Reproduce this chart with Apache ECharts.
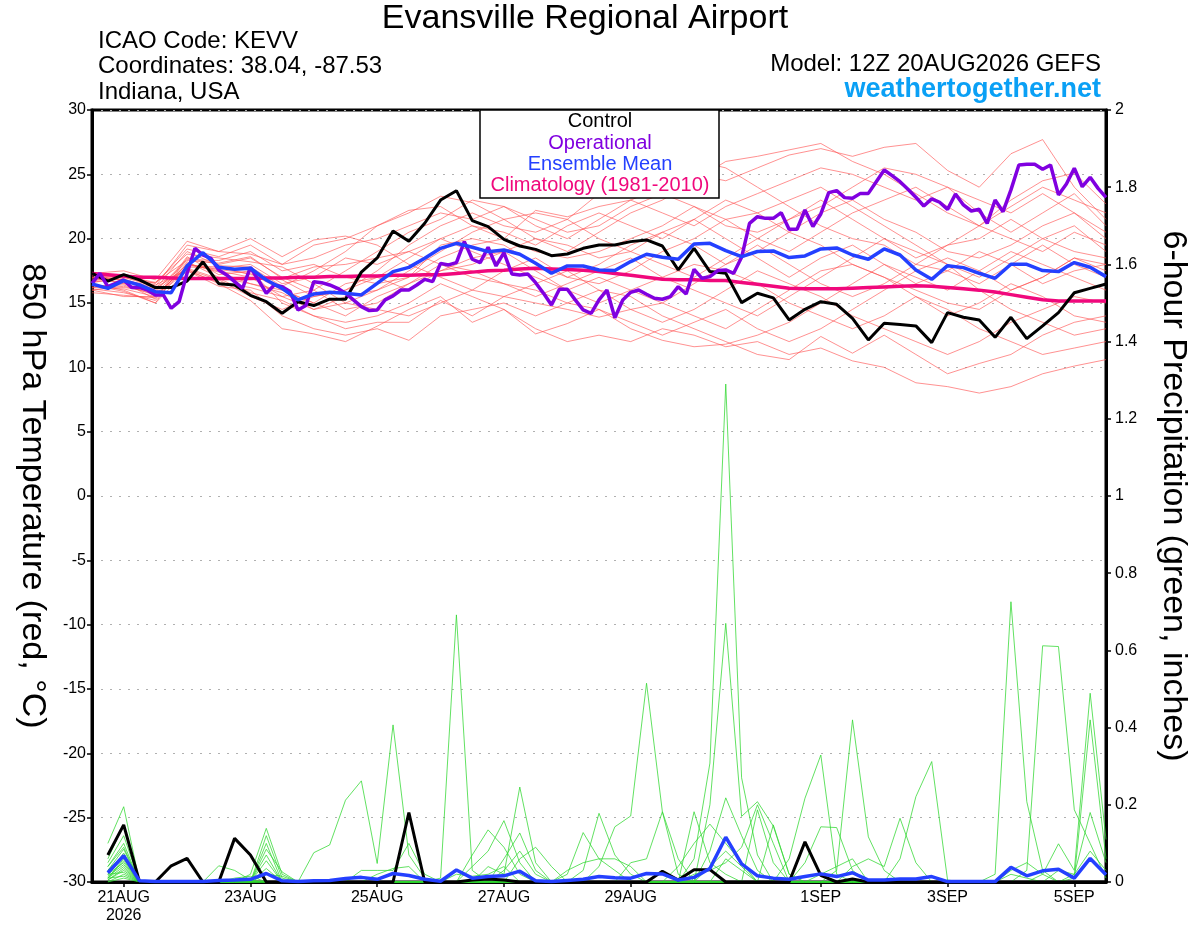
<!DOCTYPE html>
<html>
<head>
<meta charset="utf-8">
<title>Evansville Regional Airport</title>
<script src="https://cdn.jsdelivr.net/npm/echarts@6/dist/echarts.min.js"></script>
<style>
html, body { margin: 0; padding: 0; background: #fff; }
#chart { width: 1200px; height: 927px; }
</style>
</head>
<body>
<div id="chart"></div>
<script>
// hours counted from 12Z 20AUG2026
const tickHours = [12, 60, 108, 156, 204, 276, 324, 372];
const tickLabels = ["21AUG\n2026", "23AUG", "25AUG", "27AUG", "29AUG", "1SEP", "3SEP", "5SEP"];

// 850 hPa temperature, 6-hourly
const controlTemp = [
  17.3, 16.7, 17.2, 16.8, 16.2, 16.2, 16.7, 18.2, 16.5, 16.4,
  15.6, 15.1, 14.2, 15.1, 14.8, 15.3, 15.3, 17.4, 18.5, 20.6,
  19.8, 21.2, 23.0, 23.73, 21.4, 20.93, 19.95, 19.43, 19.17, 18.68,
  18.81, 19.25, 19.51, 19.51, 19.77, 19.9, 19.43, 17.57, 19.25, 17.44,
  17.31, 15.03, 15.76, 15.4, 13.68, 14.51, 15.1, 14.9, 13.81, 12.13,
  13.42, 13.32, 13.22, 11.92, 14.25, 13.89, 13.68, 12.33, 13.89, 12.23,
  13.22, 14.25, 15.8, 16.14, 16.48
];
const meanTemp = [
  16.48, 16.14, 16.74, 16.4, 15.88, 15.8, 17.88, 18.91, 17.77, 17.62,
  17.7, 16.79, 16.14, 15.24, 15.7, 15.83, 15.76, 15.63, 16.53, 17.44,
  17.77, 18.47, 19.25, 19.64, 19.33, 18.99, 19.12, 18.79, 18.09, 17.31,
  17.88, 17.88, 17.57, 17.52, 18.22, 18.79, 18.55, 18.4, 19.59, 19.64,
  19.07, 18.6, 19.0, 19.05, 18.53, 18.66, 19.2, 19.28, 18.73, 18.4,
  19.2, 18.73, 17.57, 16.84, 17.9, 17.75, 17.31, 16.92, 18.01, 18.01,
  17.52, 17.44, 18.14, 17.78, 17.05
];
const climTemp = [
  17.3, 17.2, 17.1, 17.0, 17.0, 16.95,
  16.9, 16.9, 16.9, 16.9, 16.9, 16.95,
  16.95, 17.0, 17.0, 17.05, 17.05, 17.1,
  17.1, 17.15, 17.15, 17.2, 17.2, 17.3,
  17.4, 17.5, 17.55, 17.65, 17.7, 17.65,
  17.6, 17.55, 17.45, 17.3, 17.15, 17.0,
  16.85, 16.8, 16.8, 16.75, 16.75, 16.6,
  16.45, 16.3, 16.15, 16.1, 16.1, 16.1,
  16.15, 16.2, 16.25, 16.3, 16.35, 16.3,
  16.2, 16.1, 16.0, 15.85, 15.65, 15.45,
  15.25, 15.15, 15.15, 15.15, 15.15
];
// operational run, 3-hourly
const operationalTemp = [
  16.53, 17.31, 16.27, 16.53, 16.79, 16.2, 16.22, 16.0, 15.63, 15.63,
  14.59, 15.11, 17.31, 19.25, 18.73, 18.47, 17.57, 17.18, 16.66, 16.14,
  17.77, 16.79, 15.75, 16.4, 16.27, 15.89, 14.46, 14.8, 16.66, 16.58,
  16.4, 16.14, 15.75, 15.24, 14.72, 14.41, 14.46, 15.24, 15.55, 16.01,
  16.01, 16.4, 16.84, 16.66, 18.08, 17.96, 18.14, 19.77, 18.4, 18.14,
  19.33, 17.88, 18.91, 17.26, 17.18, 17.26, 16.58, 15.75, 14.85, 16.07,
  16.07, 15.24, 14.46, 14.2, 15.24, 16.01, 13.86, 15.24, 15.83, 16.01,
  15.68, 15.37, 15.29, 15.5, 16.27, 15.7, 17.62, 16.92, 17.05, 17.52,
  17.57, 17.31, 18.55, 21.19, 21.71, 21.58, 21.58, 22.02, 20.73, 20.73,
  22.23, 20.94, 21.92, 23.58, 23.73, 23.19, 23.14, 23.52, 23.52, 24.43,
  25.34, 24.9, 24.43, 23.84, 23.22, 22.54, 23.09, 22.83, 22.28, 23.47,
  22.62, 22.15, 22.28, 21.19, 23.01, 22.1, 23.79, 25.73, 25.78, 25.78,
  25.39, 25.73, 23.4, 24.25, 25.47, 24.04, 24.77, 23.91, 23.21
];
// ensemble members, 12-hourly
const tempMembers = [
  [16.8, 17.2, 16.5, 19.2, 18.6, 19.5, 18.0, 19.5, 20.0, 21.0, 22.0, 23.3, 22.8, 21.5, 22.0, 21.5, 23.5, 24.5, 25.6, 26.1, 25.5, 24.0, 22.5, 21.0, 20.0, 19.5, 18.0, 17.5, 16.5, 18.0, 19.5, 18.0, 17.0],
  [16.2, 16.5, 15.8, 18.0, 17.5, 17.0, 15.5, 14.5, 15.0, 16.0, 17.5, 19.0, 20.5, 21.5, 20.0, 19.0, 20.5, 22.0, 23.0, 24.5, 26.0, 26.4, 26.9, 27.4, 26.0, 25.0, 23.5, 22.0, 21.0, 23.0, 24.5, 25.1, 22.7],
  [17.0, 16.8, 16.2, 17.6, 16.5, 15.2, 13.0, 12.6, 12.0, 13.2, 14.5, 15.5, 13.5, 14.5, 12.6, 13.4, 14.5, 13.0, 12.1, 11.6, 11.8, 12.5, 13.5, 15.0, 16.5, 18.0, 17.0, 16.0, 17.5, 19.0, 18.0, 17.0, 16.0],
  [16.5, 16.0, 15.0, 18.5, 18.0, 18.5, 17.0, 16.0, 17.5, 19.0, 20.5, 21.5, 23.0, 22.5, 21.0, 20.0, 21.5, 23.0, 24.0, 25.0, 24.5, 25.5, 26.5, 27.0, 26.4, 27.1, 27.4, 25.3, 24.0, 26.6, 27.7, 24.0, 21.5],
  [16.0, 15.5, 15.5, 17.5, 16.3, 16.0, 14.0, 13.0, 12.5, 13.0, 12.1, 14.0, 14.5, 15.0, 14.0, 15.0, 16.0, 15.5, 14.0, 13.0, 12.0, 11.0, 10.6, 12.4, 11.1, 12.5, 11.0, 9.5, 10.3, 11.0, 12.5, 13.5, 14.0],
  [17.3, 17.5, 16.8, 19.8, 19.0, 20.0, 18.6, 19.9, 20.2, 19.5, 18.0, 17.0, 16.0, 17.5, 18.5, 17.0, 16.5, 17.5, 19.0, 20.0, 21.5, 20.0, 19.0, 20.5, 22.0, 23.0, 24.0, 22.5, 21.0, 20.0, 19.0, 20.5, 19.5],
  [16.6, 16.9, 16.0, 18.2, 17.0, 16.5, 16.0, 15.0, 14.0, 15.5, 16.5, 18.0, 17.5, 16.5, 15.5, 16.5, 17.5, 18.5, 17.0, 16.0, 15.0, 14.0, 15.5, 17.0, 18.5, 20.0, 19.0, 18.0, 16.0, 14.5, 13.5, 12.5, 13.0],
  [16.3, 16.4, 15.6, 17.8, 17.7, 18.0, 16.5, 17.0, 18.5, 18.0, 19.0, 20.0, 21.0, 20.5, 19.5, 21.0, 22.0, 21.0, 20.0, 21.5, 23.0, 22.0, 20.5, 19.5, 18.0, 17.0, 16.0, 15.0, 14.5, 16.0, 17.0, 18.5, 18.0],
  [16.9, 16.6, 15.3, 18.6, 17.2, 17.5, 15.0, 14.0, 13.5, 14.0, 15.0, 16.5, 15.5, 14.5, 13.0, 12.0, 12.5, 12.0, 13.0, 12.5, 11.6, 12.0, 11.0, 11.5, 10.5, 10.0, 8.8, 8.5, 8.0, 8.5, 9.5, 10.1, 10.6],
  [16.4, 16.2, 15.9, 18.4, 18.3, 19.0, 17.5, 18.0, 17.0, 16.5, 17.0, 18.5, 19.5, 20.0, 19.0, 18.5, 19.0, 20.0, 21.0, 22.5, 21.0, 20.5, 21.5, 23.0, 21.5, 20.0, 18.5, 19.5, 20.0, 21.5, 20.0, 19.0, 18.5],
  [17.1, 17.0, 16.4, 17.6, 16.8, 15.5, 14.5, 15.5, 16.0, 17.0, 18.5, 20.0, 19.0, 18.0, 17.0, 16.0, 15.0, 16.0, 17.0, 18.0, 17.5, 16.5, 15.0, 14.0, 13.0, 14.0, 15.5, 14.5, 13.0, 12.0, 11.0, 11.5, 12.0],
  [16.1, 15.8, 15.2, 17.9, 17.8, 17.2, 16.8, 15.5, 16.0, 17.5, 19.5, 21.0, 22.0, 21.0, 20.5, 21.5, 20.0, 19.0, 18.0, 17.0, 18.5, 20.0, 21.5, 22.5, 24.0, 25.5, 25.0, 24.0, 22.0, 20.5, 22.0, 23.5, 21.0],
  [16.7, 17.1, 16.6, 18.8, 18.5, 18.2, 17.8, 16.5, 15.0, 14.5, 14.0, 15.0, 16.0, 15.5, 16.5, 17.5, 16.0, 14.5, 13.5, 14.5, 16.0, 17.5, 16.5, 15.5, 14.0, 13.0, 12.0, 11.0, 12.0, 13.5, 14.5, 15.5, 15.0],
  [15.8, 15.6, 15.4, 18.1, 17.4, 16.5, 15.8, 14.5, 15.5, 16.0, 17.0, 19.5, 20.0, 19.5, 18.0, 17.0, 18.0, 19.5, 20.5, 19.5, 18.0, 19.0, 20.5, 22.0, 23.0, 21.5, 20.5, 19.0, 18.5, 19.5, 21.0, 22.0, 20.0],
  [17.2, 16.7, 16.1, 19.0, 17.9, 17.8, 16.3, 17.5, 19.0, 21.0, 22.2, 22.5, 21.0, 20.0, 22.2, 21.7, 22.5, 23.0, 22.0, 21.0, 22.5, 23.5, 24.5, 25.5, 25.0, 24.0, 23.0, 24.0, 23.0, 22.0, 23.5, 22.0, 20.5],
  [16.0, 16.3, 15.7, 17.7, 16.9, 15.8, 15.2, 14.0, 13.0, 13.5, 13.5, 15.2, 14.0, 15.5, 15.0, 14.5, 13.9, 14.5, 15.0, 14.0, 13.0, 14.5, 16.0, 17.5, 18.0, 17.0, 15.5, 14.0, 15.0, 16.5, 15.5, 14.0, 13.5],
  [16.6, 17.0, 16.3, 19.5, 19.0, 18.8, 18.0, 18.5, 19.5, 20.0, 21.0, 22.0, 21.5, 22.5, 21.5, 20.5, 21.0, 22.5, 23.5, 22.5, 21.5, 22.0, 23.0, 24.0, 22.5, 21.0, 19.5, 18.0, 17.0, 18.5, 20.0, 21.0, 19.0],
  [16.4, 15.9, 15.0, 17.5, 16.6, 16.2, 15.5, 16.0, 14.5, 15.0, 16.5, 17.5, 18.5, 19.0, 17.5, 16.0, 17.0, 16.0, 15.0, 16.5, 18.0, 19.5, 18.0, 16.5, 15.5, 16.5, 18.0, 19.5, 21.0, 22.5, 24.0, 23.0, 22.0],
  [17.0, 16.5, 16.6, 18.3, 18.1, 18.6, 16.9, 17.8, 18.0, 18.5, 19.0, 18.0, 17.0, 16.5, 16.0, 15.0, 14.5, 13.5, 12.5, 13.5, 14.5, 13.0, 12.0, 13.0, 14.5, 16.0, 17.5, 18.5, 17.5, 16.0, 17.0, 18.5, 17.5],
  [16.2, 16.1, 15.5, 18.0, 17.6, 17.3, 16.0, 15.0, 16.5, 17.0, 16.0, 17.5, 18.0, 19.0, 20.0, 19.5, 18.5, 19.0, 20.5, 21.5, 20.0, 18.5, 17.0, 18.5, 19.5, 18.0, 16.5, 17.5, 19.0, 18.0, 16.5, 17.5, 18.0]
];

// 6-hour precipitation (inches), first value at hour 6
const controlPrecip = [
  .07, .148, 0, 0, .042, .061, 0, 0,
  .113, .07, 0, 0, 0, 0, 0, 0,
  0, 0, 0, .18, 0, 0, 0, .005,
  .008, .005, 0, 0, 0, 0, 0, 0,
  0, 0, 0, .028, .005, .032, .032, 0,
  0, 0, 0, 0, .104, .017, 0, .008,
  0, 0, 0, 0, 0, 0, 0, 0,
  0, 0, 0, 0, 0, 0, 0, 0
];
const meanPrecip = [
  .024, .068, .003, .001, .001, .001, .001, .004,
  .005, .007, .022, .003, .001, .003, .004, .009,
  .012, .007, .022, .017, .007, .002, .031, .01,
  .014, .016, .028, .003, .001, .004, .007, .014,
  .011, .01, .022, .021, .005, .012, .035, .116,
  .047, .016, .01, .007, .014, .021, .014, .024,
  .005, .005, .008, .008, .014, .001, .001, .001,
  .001, .038, .016, .029, .033, .01, .061, .019
];
const precipMembers = [
  [.10, .195, 0, 0, 0, 0, 0, 0, 0, 0, 0, 0, 0, 0, 0, 0, 0, 0, 0, 0, 0, .01, .692, .03, 0, 0, 0, 0, 0, 0, 0, 0, 0, 0, 0, 0, 0, 0, 0, 0, 0, .187, .05, 0, 0, 0, 0, 0, 0, 0, 0, 0, 0, 0, 0, 0, 0, 0, 0, 0, 0, 0, 0, 0],
  [.06, .148, 0, 0, 0, 0, 0, 0, 0, 0, .02, .015, 0, 0, 0, 0, 0, 0, 0, 0, 0, 0, 0, 0, 0, 0, 0, 0, 0, .02, .128, .06, .03, 0, 0, 0, 0, 0, .04, .08, .04, 0, 0, 0, 0, 0, 0, 0, 0, 0, 0, 0, 0, 0, 0, 0, 0, 0, 0, 0, 0, 0, 0, 0],
  [.05, .12, 0, 0, 0, 0, 0, .042, .03, .005, 0, 0, 0, 0, 0, 0, 0, 0, 0, 0, 0, 0, 0, 0, 0, 0, 0, 0, 0, 0, 0, 0, 0, .05, .06, .182, .06, 0, 0, 0, 0, 0, 0, 0, 0, 0, 0, 0, 0, 0, 0, 0, 0, 0, 0, 0, .02, .726, .208, .03, 0, 0, 0, 0],
  [.04, .10, 0, 0, 0, 0, 0, 0, 0, 0, 0, 0, 0, .076, .096, .212, .262, .048, .407, .07, .01, 0, 0, 0, 0, 0, 0, 0, 0, 0, 0, 0, 0, 0, 0, 0, 0, 0, 0, 0, 0, 0, .148, .02, 0, 0, 0, 0, 0, 0, 0, 0, 0, 0, 0, 0, 0, 0, 0, 0, 0, 0, 0, 0],
  [.03, .085, 0, 0, 0, 0, 0, 0, 0, .02, .139, .02, 0, 0, 0, 0, 0, 0, 0, 0, 0, 0, 0, 0, 0, 0, 0, 0, 0, 0, 0, 0, 0, 0, 0, 0, 0, .182, .05, .02, 0, 0, 0, 0, 0, 0, 0, 0, 0, 0, 0, 0, 0, 0, 0, 0, 0, .03, .05, .02, 0, 0, 0, 0],
  [.02, .075, 0, 0, 0, 0, 0, 0, 0, 0, .12, .01, 0, 0, 0, 0, 0, 0, 0, 0, 0, 0, 0, .07, .135, .09, .02, 0, 0, 0, 0, 0, 0, 0, 0, 0, 0, 0, 0, 0, 0, 0, 0, .06, .217, .329, .02, 0, 0, 0, 0, 0, 0, 0, 0, 0, 0, 0, 0, 0, 0, 0, 0, 0],
  [.03, .07, 0, 0, 0, 0, 0, 0, 0, 0, 0, 0, 0, 0, 0, 0, .03, .03, .03, .1, .02, 0, 0, 0, 0, 0, 0, 0, 0, 0, 0, 0, 0, 0, 0, 0, 0, 0, 0, 0, 0, 0, 0, 0, .05, .143, .141, .03, 0, 0, 0, 0, 0, 0, 0, 0, 0, 0, 0, 0, 0, 0, 0, 0],
  [.01, .06, 0, 0, 0, 0, 0, 0, 0, 0, .10, 0, 0, 0, 0, 0, 0, 0, 0, 0, 0, 0, 0, 0, 0, 0, 0, 0, 0, 0, 0, 0, 0, 0, 0, 0, 0, .06, .308, 1.29, .27, .07, 0, 0, 0, 0, 0, 0, 0, 0, 0, 0, 0, 0, 0, 0, 0, 0, 0, 0, 0, 0, 0, 0],
  [.02, .05, 0, 0, 0, 0, 0, 0, 0, 0, .085, .026, 0, 0, 0, 0, 0, 0, 0, 0, 0, 0, 0, 0, 0, 0, 0, 0, 0, 0, .03, .178, .07, .02, 0, 0, 0, 0, 0, 0, 0, 0, 0, 0, 0, 0, 0, 0, 0, 0, 0, 0, 0, 0, 0, 0, 0, 0, .03, .612, .61, .187, .1, .01],
  [.015, .045, 0, 0, 0, 0, 0, 0, .01, .015, 0, 0, 0, 0, 0, 0, 0, 0, 0, 0, 0, 0, 0, .04, .08, .159, .05, 0, 0, 0, 0, 0, 0, 0, 0, 0, 0, 0, 0, 0, 0, 0, 0, 0, 0, 0, .03, .42, .117, .03, 0, 0, 0, 0, 0, 0, 0, 0, 0, 0, 0, 0, 0, 0],
  [.01, .04, 0, 0, 0, 0, 0, 0, 0, 0, .07, 0, 0, 0, 0, 0, 0, 0, 0, 0, 0, 0, 0, 0, 0, 0, 0, 0, 0, 0, 0, 0, 0, 0, 0, 0, 0, 0, .2, .67, .17, .208, .145, .02, 0, 0, 0, 0, 0, 0, 0, 0, 0, 0, 0, 0, 0, 0, 0, 0, 0, 0, 0, 0],
  [.005, .03, 0, 0, 0, 0, 0, 0, 0, 0, 0, 0, 0, 0, 0, 0, 0, .02, .035, .04, 0, 0, 0, 0, 0, 0, 0, 0, 0, 0, 0, .04, .143, .171, .515, .182, .02, 0, 0, 0, 0, 0, 0, 0, 0, 0, 0, 0, 0, 0, 0, 0, 0, 0, 0, 0, 0, 0, 0, 0, 0, .01, .42, .06],
  [.02, .025, 0, 0, 0, 0, 0, 0, 0, 0, .055, 0, 0, 0, 0, 0, 0, 0, 0, 0, 0, 0, 0, 0, 0, 0, 0, 0, 0, 0, 0, 0, 0, 0, 0, 0, 0, 0, .08, .218, .12, .03, 0, 0, 0, 0, 0, 0, 0, 0, 0, 0, 0, 0, 0, 0, 0, 0, 0, 0, .03, .02, .08, .03],
  [0, .02, 0, 0, 0, 0, 0, 0, 0, 0, 0, 0, 0, 0, 0, 0, 0, 0, 0, 0, 0, 0, 0, 0, .04, .02, .246, .05, 0, 0, 0, 0, 0, 0, 0, 0, 0, 0, 0, 0, 0, 0, 0, 0, 0, 0, 0, .04, .06, .04, .165, .05, 0, 0, 0, 0, 0, 0, 0, 0, 0, 0, 0, 0],
  [.01, .015, 0, 0, 0, 0, 0, 0, 0, 0, .035, 0, 0, 0, 0, 0, 0, 0, 0, 0, 0, 0, 0, 0, 0, 0, 0, 0, 0, 0, 0, 0, 0, 0, 0, 0, .04, .1, .15, .1, .05, 0, 0, 0, 0, 0, 0, 0, 0, 0, 0, 0, 0, 0, 0, 0, 0, .02, .01, 0, 0, 0, 0, 0],
  [.04, .09, 0, 0, 0, 0, 0, 0, 0, 0, 0, 0, 0, 0, 0, 0, 0, 0, 0, 0, 0, 0, 0, 0, 0, .06, .127, .03, 0, 0, 0, 0, 0, 0, 0, 0, 0, 0, 0, 0, 0, 0, 0, 0, 0, 0, 0, 0, 0, 0, .06, .221, .312, .005, 0, 0, 0, 0, 0, 0, 0, 0, 0, 0],
  [.03, .065, 0, 0, 0, 0, 0, 0, 0, 0, 0, 0, 0, 0, 0, 0, 0, 0, 0, 0, 0, 0, 0, 0, 0, 0, 0, 0, 0, .03, .05, .06, .06, .04, 0, 0, 0, 0, 0, 0, 0, 0, 0, 0, 0, .02, .04, .06, 0, 0, 0, 0, 0, 0, 0, 0, 0, 0, 0, 0, 0, 0, 0, 0],
  [0, .01, 0, 0, 0, 0, 0, 0, 0, 0, 0, 0, 0, 0, 0, 0, 0, 0, 0, 0, 0, 0, 0, 0, 0, 0, .06, .09, .04, 0, 0, 0, 0, 0, 0, 0, 0, 0, 0, 0, 0, 0, 0, 0, 0, 0, 0, 0, 0, 0, 0, 0, 0, 0, 0, 0, 0, 0, 0, .02, .099, .03, .489, .11],
  [.005, .035, 0, 0, 0, 0, 0, 0, 0, 0, 0, 0, 0, 0, 0, 0, 0, 0, 0, 0, 0, 0, .02, .015, .02, .04, 0, 0, 0, 0, 0, 0, 0, 0, 0, 0, 0, .02, .03, .05, .09, .2, .1, 0, 0, 0, 0, 0, 0, 0, 0, 0, 0, 0, 0, 0, 0, 0, 0, 0, 0, 0, 0, 0],
  [.01, .055, 0, 0, 0, 0, 0, 0, 0, 0, 0, 0, 0, 0, 0, 0, 0, 0, 0, 0, 0, 0, 0, 0, 0, .03, .08, .02, 0, 0, 0, 0, 0, 0, 0, 0, 0, 0, 0, .06, .03, 0, 0, 0, 0, 0, 0, 0, 0, 0, 0, 0, 0, 0, 0, 0, 0, 0, 0, 0, 0, .02, .18, .05]
];

const FONT = "'Liberation Sans', Arial, Helvetica, sans-serif";

function pairs(values, step, offset) {
  return values.map(function (v, n) { return [offset + n * step, v]; });
}

function line(data, axis, color, width, z, opacity) {
  return {
    type: "line",
    data: data,
    yAxisIndex: axis,
    showSymbol: false,
    silent: true,
    z: z,
    lineStyle: { color: color, width: width, opacity: opacity === undefined ? 1 : opacity }
  };
}

function label(text, x, y, size, color, align, extra) {
  let t = {
    type: "text", x: x, y: y, z: 101,
    style: { text: text, font: size + "px " + FONT, fill: color, align: align, verticalAlign: "middle" }
  };
  return Object.assign(t, extra || {});
}

let series = [];
tempMembers.forEach(function (m) {
  series.push(line(pairs(m, 12, 0), 0, "#ff5050", 0.9, 1, 0.7));
});
precipMembers.forEach(function (m) {
  series.push(line(pairs(m, 6, 6), 1, "#30d830", 0.9, 2, 0.85));
});
series.push(line(pairs(climTemp, 6, 0), 0, "#f0087c", 3.5, 3));
series.push(line(pairs(controlTemp, 6, 0), 0, "#000000", 3, 4));
series.push(line(pairs(controlPrecip, 6, 6), 1, "#000000", 3, 4));
series.push(line(pairs(operationalTemp, 3, 0), 0, "#8000e0", 3.5, 5));
series.push(line(pairs(meanTemp, 6, 0), 0, "#2440ff", 3.5, 6));
series.push(line(pairs(meanPrecip, 6, 6), 1, "#2440ff", 3.5, 6));

const chart = echarts.init(document.getElementById("chart"));
chart.setOption({
  animation: false,
  backgroundColor: "#ffffff",
  textStyle: { fontFamily: FONT },
  grid: {
    left: 92, right: 94, top: 110, bottom: 45,
    show: true, borderColor: "#000", borderWidth: 3, backgroundColor: "transparent"
  },
  xAxis: {
    type: "value",
    min: 0,
    max: 384,
    axisLine: { show: true, onZero: false, lineStyle: { color: "#000", width: 3 } },
    axisTick: { show: true, customValues: tickHours, length: 5, lineStyle: { color: "#000", width: 1.5 } },
    axisLabel: {
      customValues: tickHours,
      formatter: function (v) { return tickLabels[tickHours.indexOf(v)] || ""; },
      color: "#000", fontSize: 16, fontFamily: FONT, margin: 7, lineHeight: 18
    },
    splitLine: { show: false }
  },
  yAxis: [
    {
      type: "value",
      position: "left",
      min: -30, max: 30, interval: 5,
      axisLine: { show: true, lineStyle: { color: "#000", width: 3 } },
      axisTick: { show: true, length: 5, lineStyle: { color: "#000", width: 1.5 } },
      axisLabel: { color: "#000", fontSize: 16, fontFamily: FONT, margin: 6 },
      splitLine: { show: true, lineStyle: { color: "#b0b0b0", width: 1.2, type: [2, 7] } }
    },
    {
      type: "value",
      position: "right",
      min: 0, max: 2, interval: 0.2,
      axisLine: { show: true, lineStyle: { color: "#000", width: 3 } },
      axisTick: { show: true, length: 5, lineStyle: { color: "#000", width: 1.5 } },
      axisLabel: {
        color: "#000", fontSize: 16, fontFamily: FONT, margin: 9,
        formatter: function (v) { return String(parseFloat(v.toFixed(1))); }
      },
      splitLine: { show: false }
    }
  ],
  graphic: [
    label("Evansville Regional Airport", 585, 19, 34, "#000", "center"),
    label("ICAO Code: KEVV", 98, 41, 24, "#000", "left"),
    label("Coordinates: 38.04, -87.53", 98, 66, 24, "#000", "left"),
    label("Indiana, USA", 98, 92, 24, "#000", "left"),
    label("Model: 12Z 20AUG2026 GEFS", 1101, 64, 24, "#000", "right"),
    {
      type: "text", x: 1101, y: 90, z: 101,
      style: { text: "weathertogether.net", font: "bold 27px " + FONT, fill: "#0aa0f5", align: "right", verticalAlign: "middle" }
    },
    label("850 hPa Temperature (red, \u00B0C)", 32, 496, 34, "#000", "center", { rotation: -Math.PI / 2 }),
    label("6-hour Precipitation (green, inches)", 1173, 496, 34, "#000", "center", { rotation: -Math.PI / 2 }),
    {
      type: "rect", z: 100,
      shape: { x: 480, y: 110, width: 239, height: 88 },
      style: { fill: "#fff", stroke: "#000", lineWidth: 1.5 }
    },
    label("Control", 600, 121, 20, "#000", "center"),
    label("Operational", 600, 143, 20, "#8000e0", "center"),
    label("Ensemble Mean", 600, 164, 20, "#2440ff", "center"),
    label("Climatology (1981-2010)", 600, 185, 20, "#f0087c", "center")
  ],
  series: series
});
</script>
</body>
</html>
